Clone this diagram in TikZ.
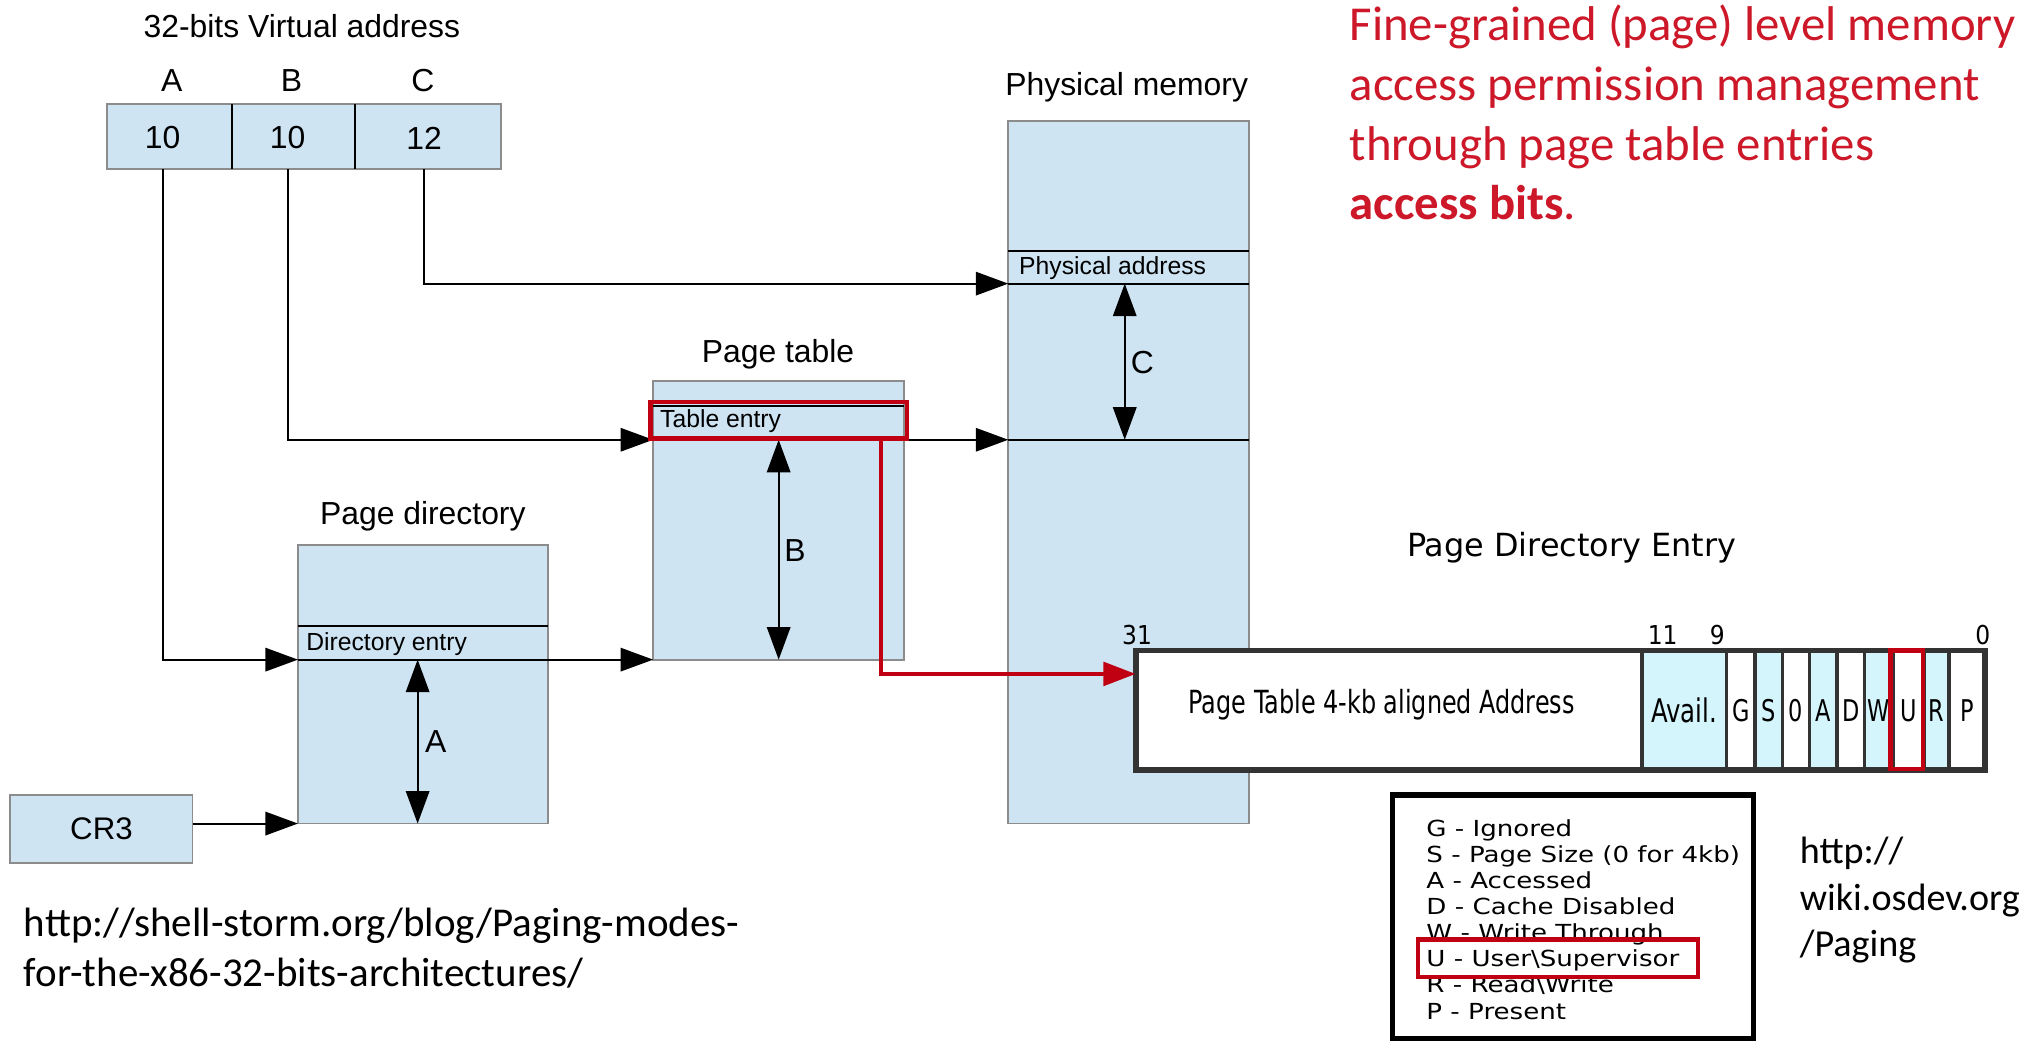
\documentclass[tikz,border=0pt]{standalone}
\usepackage{fontspec}
\setmainfont{Liberation Sans}
\newfontfamily\dvreg{DejaVu Sans}
\newfontfamily\dvnarrow[FakeStretch=0.75]{DejaVu Sans}
\newfontfamily\dvmid[FakeStretch=0.9]{DejaVu Sans}
\newfontfamily\dvwide[FakeStretch=1.18]{DejaVu Sans}
\newfontfamily\calfont{Carlito}
\usetikzlibrary{arrows.meta,calc}
\definecolor{boxblue}{RGB}{207,228,243}
\definecolor{boxgray}{RGB}{140,140,140}
\definecolor{pdecyan}{RGB}{212,245,252}
\definecolor{pdedark}{RGB}{51,51,51}
\definecolor{hlred}{RGB}{192,0,18}
\definecolor{txtred}{RGB}{204,24,40}
\tikzset{
  memcell/.style={draw=boxgray, fill=boxblue, line width=0.7pt, inner sep=0pt, outer sep=0pt, anchor=north west},
  rowbox/.style={inner sep=0pt, outer sep=0pt, anchor=north west},
  titletext/.style={font=\fontsize{12.25pt}{14pt}\selectfont, inner sep=0pt},
  smalltext/.style={font=\fontsize{9.5pt}{11pt}\selectfont, inner sep=0pt, anchor=west},
  conn/.style={line width=0.75pt, -{Triangle[length=12.5pt,width=9pt]}},
  dblconn/.style={line width=0.75pt, {Triangle[length=12.5pt,width=9pt]}-{Triangle[length=12.5pt,width=9pt]}},
  redconn/.style={hlred, line width=1.75pt, -{Triangle[length=12.5pt,width=9pt]}},
  hlbox/.style={draw=hlred, line width=1.75pt, inner sep=0pt, outer sep=0pt, anchor=north west},
  pdecell/.style={draw=pdedark, line width=1.25pt, inner sep=0pt, outer sep=0pt, anchor=north west, minimum height=46pt, font=\dvnarrow\fontsize{11.5pt}{13pt}\selectfont},
  bitnum/.style={font=\dvmid\fontsize{10pt}{12pt}\selectfont, inner sep=0pt},
  legtext/.style={font=\dvwide\fontsize{8.5pt}{10pt}\selectfont, inner sep=0pt, anchor=base west},
  urltext/.style={font=\calfont\fontsize{15.75pt}{19pt}\selectfont, inner sep=0pt, anchor=base west},
  osdevtext/.style={font=\calfont\fontsize{14.65pt}{18pt}\selectfont, inner sep=0pt, anchor=base west},
  redtext/.style={font=\calfont\fontsize{18.75pt}{23pt}\selectfont, text=txtred, inner sep=0pt, anchor=base west}
}
\begin{document}
\begin{tikzpicture}[x=0.5pt,y=-0.5pt]
\useasboundingbox (0,0) rectangle (1568,800);
\fill[white] (0,0) rectangle (1568,800);

% ---------- virtual address ----------
\node[titletext] (vatitle) at (232,20) {32-bits Virtual address};
\node[memcell, minimum width=48pt, minimum height=25pt] (vaA) at (82,80) {};
\node[memcell, minimum width=47.5pt, minimum height=25pt] (vaB) at (178,80) {};
\node[memcell, minimum width=56pt, minimum height=25pt] (vaC) at (273,80) {};
\draw[line width=0.75pt] (vaB.north west) -- (vaB.south west);
\draw[line width=0.75pt] (vaC.north west) -- (vaC.south west);
\node[titletext] (numA) at (125,106) {10};
\node[titletext] (numB) at (221,106) {10};
\node[titletext] (numC) at (326,106) {12};
\node[titletext] (labA) at (132,62) {A};
\node[titletext] (labB) at (224,62) {B};
\node[titletext] (labC) at (325,62) {C};

% ---------- page directory ----------
\node[titletext] (pdtitle) at (325,397) {Page directory};
\node[memcell, minimum width=96pt, minimum height=107pt] (pd) at (229,419) {};
\node[rowbox, minimum width=96pt, minimum height=13pt] (pdEntry) at (229,481) {};
\draw[line width=0.75pt] (pdEntry.north west) -- (pdEntry.north east);
\node[smalltext] (pdtext) at (235,495) {Directory entry};

% ---------- page table ----------
\node[titletext] (pttitle) at (598,272) {Page table};
\node[memcell, minimum width=96.5pt, minimum height=107pt] (pt) at (502,293) {};
\node[rowbox, minimum width=96.5pt, minimum height=13pt] (ptEntry) at (502,312) {};
\draw[line width=0.75pt] (ptEntry.north west) -- (ptEntry.north east);
\node[smalltext] (pttext) at (507,324) {Table entry};

% ---------- physical memory ----------
\node[titletext] (pmtitle) at (866,67) {Physical memory};
\node[memcell, minimum width=92.5pt, minimum height=270pt] (pm) at (775,93) {};
\node[rowbox, minimum width=92.5pt, minimum height=12.5pt] (pmAddr) at (775,193) {};
\node[rowbox, minimum width=92.5pt, minimum height=60pt] (pmOff) at (775,218) {};
\draw[line width=0.75pt] (pmAddr.north west) -- (pmAddr.north east);
\draw[line width=0.75pt] (pmAddr.south west) -- (pmAddr.south east);
\draw[line width=0.75pt] (pmOff.south west) -- (pmOff.south east);
\node[smalltext] (pmtext) at (783,206) {Physical address};

% ---------- CR3 ----------
\node[memcell, minimum width=70pt, minimum height=26pt, font=\fontsize{12pt}{14pt}\selectfont] (cr3) at (8,611) {CR3};

% ---------- connectors ----------
\draw[conn] (numA.south |- vaA.south) |- (pdEntry.south west);
\draw[conn] (numB.south |- vaB.south) |- (ptEntry.south west);
\draw[conn] (numC.south |- vaC.south) |- (pmAddr.south west);
\draw[conn] (pdEntry.south west) -- (pt.south west);
\draw[conn] (ptEntry.south west) -- (pmOff.south west);
\draw[conn] (cr3.east |- pd.south west) -- (pd.south west);

\draw[dblconn] ([xshift=-2pt]pdEntry.south) -- ([xshift=-2pt]pd.south);
\node[titletext] (lblA) at (335,570) {A};
\draw[dblconn] (ptEntry.south) -- (pt.south);
\node[titletext] (lblB) at (611,423) {B};
\draw[dblconn] ([xshift=-1.5pt]pmAddr.south) -- ([xshift=-1.5pt]pmOff.south);
\node[titletext] (lblC) at (878,279) {C};

% ---------- Page Directory Entry ----------
\node[font=\dvreg\fontsize{12.25pt}{14pt}\selectfont, inner sep=0pt] (pdetitle) at (1208,421) {Page Directory Entry};
\node[fill=white, inner sep=0pt, outer sep=0pt, anchor=north west, minimum width=326.5pt, minimum height=46pt] (pde) at (873,500) {};
\node[pdecell, fill=white, minimum width=194.5pt] (fAddr) at (873,500) {};
\node[font=\dvnarrow\fontsize{12.25pt}{14pt}\selectfont, inner sep=0pt] (fAddrText) at (1062,542) {Page Table 4-kb aligned Address};
\node[pdecell, fill=pdecyan, minimum width=32.5pt, font=\dvnarrow\fontsize{12.5pt}{14pt}\selectfont] (fAvail) at (1262,500) {Avail.};
\node[pdecell, fill=white,   minimum width=11pt]   (fG) at (1327,500) {G};
\node[pdecell, fill=pdecyan, minimum width=10.5pt] (fS) at (1349,500) {S};
\node[pdecell, fill=white,   minimum width=10.5pt] (f0) at (1370,500) {0};
\node[pdecell, fill=pdecyan, minimum width=10.5pt] (fA) at (1391,500) {A};
\node[pdecell, fill=white,   minimum width=10.5pt] (fD) at (1412,500) {D};
\node[pdecell, fill=pdecyan, minimum width=11pt]   (fW) at (1433,500) {W};
\node[pdecell, fill=white,   minimum width=12pt]   (fU) at (1455,500) {U};
\node[pdecell, fill=pdecyan, minimum width=9.5pt]  (fR) at (1479,500) {R};
\node[pdecell, fill=white,   minimum width=14pt]   (fP) at (1498,500) {P};
\draw[pdedark, line width=2.25pt] (pde.north west) rectangle (pde.south east);
\node[hlbox, minimum width=12.5pt, minimum height=45.5pt] (uBox) at (1453,500) {};
\node[bitnum] (b31) at (874,488) {31};
\node[bitnum] (b11) at (1278,488) {11};
\node[bitnum] (b9) at (1320,488) {9};
\node[bitnum] (b0) at (1524,488) {0};

% red path from table entry to PDE
\node[hlbox, minimum width=98.5pt, minimum height=14pt] (teBox) at (500,309) {};
\coordinate (pdeIn) at ($(pde.north west)+(0,18)$);
\draw[redconn] ([xshift=-10pt]teBox.south east) |- (pdeIn);

% ---------- legend ----------
\node[draw=black, line width=2pt, inner sep=0pt, outer sep=0pt, anchor=north west, minimum width=139pt, minimum height=93.5pt] (legend) at (1070,611) {};
\node[legtext] (leg1) at (1096,642.6) {G - Ignored};
\node[legtext] (leg2) at (1096,662.7) {S - Page Size (0 for 4kb)};
\node[legtext] (leg3) at (1096,682.8) {A - Accessed};
\node[legtext] (leg4) at (1096,702.9) {D - Cache Disabled};
\node[legtext] (leg5) at (1096,723.0) {W - Write Through};
\node[legtext] (leg6) at (1096,743.1) {U - User\textbackslash Supervisor};
\node[legtext] (leg7) at (1096,763.2) {R - Read\textbackslash Write};
\node[legtext] (leg8) at (1096,783.3) {P - Present};
\node[hlbox, minimum width=107.5pt, minimum height=14.5pt] (uLeg) at (1090,722) {};

% ---------- sources and note ----------
\node[osdevtext] (os1) at (1383,664) {http://};
\node[osdevtext] (os2) at (1383,700) {wiki.osdev.org};
\node[osdevtext] (os3) at (1383,735) {/Paging};
\node[urltext] (url1) at (18,720) {http://shell-storm.org/blog/Paging-modes-};
\node[urltext] (url2) at (18,758) {for-the-x86-32-bits-architectures/};
\node[redtext] (note1) at (1037,31) {Fine-grained (page) level memory};
\node[redtext] (note2) at (1037,77) {access permission management};
\node[redtext] (note3) at (1037,123) {through page table entries};
\node[redtext] (note4) at (1037,169) {\textbf{access bits}.};
\end{tikzpicture}
\end{document}
